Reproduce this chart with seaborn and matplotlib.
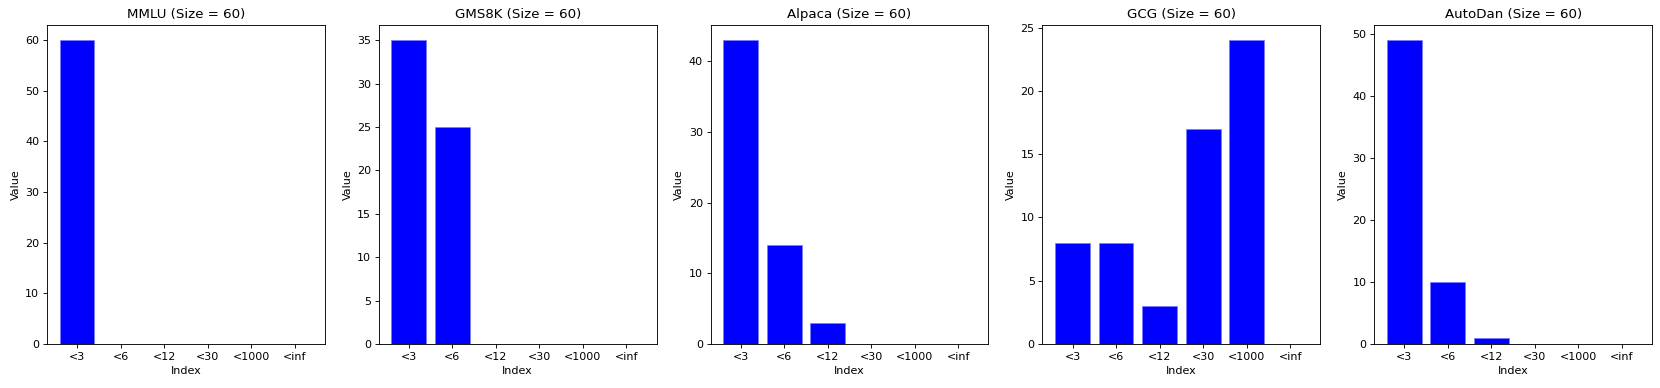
import matplotlib
matplotlib.use("Agg")
import matplotlib.pyplot as plt
import seaborn as sns
import pandas as pd

# bucket labels on the x axis
buckets = ['<3', '<6', '<12', '<30', '<1000', '<inf']

# counts per dataset (size = 60 each)
mmlu = [60, 0, 0, 0, 0, 0]
gsm8k = [35, 25, 0, 0, 0, 0]
alpaca = [43, 14, 3, 0, 0, 0]
gcg = [8, 8, 3, 17, 24, 0]
autodan = [49, 10, 1, 0, 0, 0]

names = ['MMLU', 'GMS8K', 'Alpaca', 'GCG', 'AutoDan']
series = [mmlu, gsm8k, alpaca, gcg, autodan]

fig, axes = plt.subplots(1, 5, figsize=(20.75, 4.85), dpi=80)

for ax, name, vals in zip(axes, names, series):
    df = pd.DataFrame({'Index': buckets, 'Value': vals})
    sns.barplot(data=df, x='Index', y='Value', color='blue', saturation=1,
                width=0.8, edgecolor='#7a7aff', linewidth=0.6, ax=ax)
    ax.set_title(f"{name} (Size = {sum(vals)})")
    ax.set_xlabel("Index")
    ax.set_ylabel("Value")
    ax.set_xlim(-0.69, 5.69)

plt.subplots_adjust(left=47/1660, right=1652/1660, bottom=1-344/388,
                    top=1-25/388, wspace=0.195)
plt.savefig("out.png", dpi=80)
